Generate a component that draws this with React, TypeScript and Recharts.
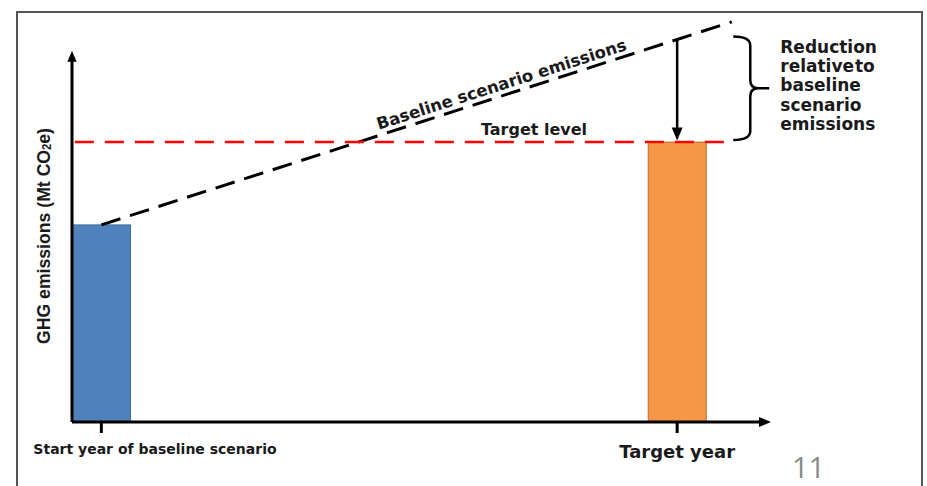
import React from 'react';
import { ComposedChart, Bar, Cell, XAxis, YAxis, ReferenceLine } from 'recharts';

// Emissions at the start year and the target level in the target year
const yearPositions = [0, 10];
const xTickLabels = ['Start year of baseline scenario', 'Target year'];
const barValues = [50, 71];
const barColors = ['#4F81BD', '#F79646'];
const barStrokes = ['#3A6A9E', '#B66D31'];

// Baseline (business as usual) trajectory
const baselineX = [0, 10.95];
const baselineY = [50, 101.5];
const targetLevel = 71;
const baselineAtTarget = 97;

const reductionLines = ['Reduction', 'relative to', 'baseline', 'scenario', 'emissions'];

const X_DOMAIN: [number, number] = [-0.51, 11.63];
const Y_DOMAIN: [number, number] = [0, 104];
const Y_AXIS_TOP = 94.2;
const BRACE_X = 11.27;

const BOLD = "'DejaVu Sans', Verdana, sans-serif";
const TEXT = '#1a1a1a';

const barRows = yearPositions.map((x, i) => ({ x, emissions: barValues[i] }));

function ArrowShape(props: any) {
  const { x1, y1, x2, y2, head = 12, width = 3 } = props;
  const dx = x2 - x1;
  const dy = y2 - y1;
  const len = Math.hypot(dx, dy) || 1;
  const ux = dx / len;
  const uy = dy / len;
  const bx = x2 - ux * head;
  const by = y2 - uy * head;
  const w = head * 0.42;
  const pts = `${x2},${y2} ${bx - uy * w},${by + ux * w} ${bx + uy * w},${by - ux * w}`;
  return (
    <g>
      <line x1={x1} y1={y1} x2={bx + ux} y2={by + uy} stroke="#000" strokeWidth={width} />
      <polygon points={pts} fill="#000" />
    </g>
  );
}

function BaselineShape(props: any) {
  const { x1, y1, x2, y2 } = props;
  const dx = x2 - x1;
  const dy = y2 - y1;
  const len = Math.hypot(dx, dy) || 1;
  const angle = (Math.atan2(dy, dx) * 180) / Math.PI;
  const t = 0.64;
  const tx = x1 + dx * t + (dy / len) * 11;
  const ty = y1 + dy * t - (dx / len) * 11;
  return (
    <g>
      <line x1={x1} y1={y1} x2={x2} y2={y2} stroke="#000" strokeWidth={3} strokeDasharray="20 10" />
      <text
        x={tx}
        y={ty}
        transform={`rotate(${angle}, ${tx}, ${ty})`}
        textAnchor="middle"
        dominantBaseline="central"
        fontFamily={BOLD}
        fontWeight="bold"
        fontSize={16.5}
        fill={TEXT}
      >
        Baseline scenario emissions
      </text>
    </g>
  );
}

function TargetLevelShape(props: any) {
  const { x1, y1, x2, y2 } = props;
  const tx = x1 + (x2 - x1) * 0.705;
  return (
    <g>
      <line x1={x1} y1={y1} x2={x2} y2={y2} stroke="#FF0000" strokeWidth={2.5} strokeDasharray="19 11" />
      <text
        x={tx}
        y={y1 - 13}
        textAnchor="middle"
        dominantBaseline="central"
        fontFamily={BOLD}
        fontWeight="bold"
        fontSize={16}
        fill={TEXT}
      >
        Target level
      </text>
    </g>
  );
}

function BraceShape(props: any) {
  const { x1, y1, y2 } = props;
  const top = Math.min(y1, y2) - 3;
  const bottom = Math.max(y1, y2) - 2;
  const mid = (top + bottom) / 2;
  const sx = x1;
  const d = [
    `M ${sx - 17} ${top}`,
    `Q ${sx} ${top} ${sx} ${top + 9}`,
    `L ${sx} ${mid - 8}`,
    `Q ${sx} ${mid} ${sx + 8} ${mid}`,
    `Q ${sx} ${mid} ${sx} ${mid + 8}`,
    `L ${sx} ${bottom - 9}`,
    `Q ${sx} ${bottom} ${sx - 17} ${bottom}`,
    `M ${sx + 6} ${mid} L ${sx + 19} ${mid}`,
  ].join(' ');
  return (
    <g>
      <path d={d} fill="none" stroke="#000" strokeWidth={2.5} />
      <text fontFamily={BOLD} fontWeight="bold" fontSize={17} fill={TEXT}>
        {reductionLines.map((line, i) => (
          <tspan
            key={line}
            x={sx + 30}
            y={mid - 3 + (i - 2) * 19.2}
            dominantBaseline="central"
            wordSpacing={i === 1 ? -5 : 0}
          >
            {line}
          </tspan>
        ))}
      </text>
    </g>
  );
}

function YearTick(props: any) {
  const { x, y, index } = props;
  if (index === 0) {
    return (
      <text
        x={x - 68}
        y={y + 14}
        textAnchor="start"
        dominantBaseline="central"
        fontFamily={BOLD}
        fontWeight="bold"
        fontSize={14}
        fill={TEXT}
      >
        {xTickLabels[0]}
      </text>
    );
  }
  return (
    <text
      x={x}
      y={y + 16}
      textAnchor="middle"
      dominantBaseline="central"
      fontFamily={BOLD}
      fontWeight="bold"
      fontSize={18}
      fill={TEXT}
    >
      {xTickLabels[index]}
    </text>
  );
}

function YTitle(props: any) {
  const vb = props.viewBox || { x: 0, y: 0, width: 0, height: 0 };
  const cx = vb.x + 43;
  const cy = vb.y + vb.height / 2 + 19;
  return (
    <text
      x={cx}
      y={cy}
      transform={`rotate(-90, ${cx}, ${cy})`}
      textAnchor="middle"
      dominantBaseline="central"
      fontFamily="'Liberation Sans Narrow', 'Liberation Sans', Arial, sans-serif"
      fontWeight="bold"
      fontSize={19}
      fill={TEXT}
      textLength={216}
      lengthAdjust="spacingAndGlyphs"
    >
      GHG emissions (Mt CO
      <tspan fontSize={12} dy={4}>
        2
      </tspan>
      <tspan dy={-4}>e)</tspan>
    </text>
  );
}

export default function App() {
  return (
    <div
      style={{
        position: 'fixed',
        left: 0,
        top: 0,
        width: 927,
        height: 486,
        overflow: 'hidden',
        background: '#fff',
      }}
    >
      <div
        style={{
          position: 'absolute',
          left: 16,
          top: 11,
          width: 903,
          height: 520,
          border: '2px solid #555',
        }}
      />
      <div style={{ position: 'absolute', left: 0, top: 0 }}>
        <ComposedChart
          width={927}
          height={486}
          data={barRows}
          margin={{ top: 12, right: 156, bottom: 0, left: 0 }}
        >
          <XAxis
            type="number"
            dataKey="x"
            domain={X_DOMAIN}
            allowDataOverflow
            ticks={yearPositions}
            interval={0}
            height={64}
            axisLine={false}
            tickSize={11}
            tickLine={{ stroke: '#000', strokeWidth: 3 }}
            tick={<YearTick />}
          />
          <YAxis
            type="number"
            domain={Y_DOMAIN}
            allowDataOverflow
            width={72}
            axisLine={false}
            tick={false}
            tickLine={false}
            label={{ content: (p: any) => <YTitle {...p} /> }}
          />
          <Bar dataKey="emissions" barSize={58} isAnimationActive={false}>
            {barRows.map((row, i) => (
              <Cell key={row.x} fill={barColors[i]} stroke={barStrokes[i]} strokeWidth={1} />
            ))}
          </Bar>
          <ReferenceLine
            ifOverflow="visible"
            segment={[
              { x: baselineX[0], y: baselineY[0] },
              { x: baselineX[1], y: baselineY[1] },
            ]}
            shape={(p: any) => <BaselineShape {...p} />}
          />
          <ReferenceLine
            ifOverflow="visible"
            segment={[
              { x: -0.46, y: targetLevel },
              { x: 10.85, y: targetLevel },
            ]}
            shape={(p: any) => <TargetLevelShape {...p} />}
          />
          <ReferenceLine
            ifOverflow="visible"
            segment={[
              { x: yearPositions[1], y: baselineAtTarget },
              { x: yearPositions[1], y: targetLevel + 0.4 },
            ]}
            shape={(p: any) => <ArrowShape {...p} head={13} width={2.5} />}
          />
          <ReferenceLine
            ifOverflow="visible"
            segment={[
              { x: BRACE_X, y: baselineAtTarget },
              { x: BRACE_X, y: targetLevel },
            ]}
            shape={(p: any) => <BraceShape {...p} />}
          />
          {/* axes with arrow heads */}
          <ReferenceLine
            ifOverflow="visible"
            segment={[
              { x: X_DOMAIN[0], y: 0 },
              { x: X_DOMAIN[0], y: Y_AXIS_TOP },
            ]}
            shape={(p: any) => <ArrowShape {...p} head={11} width={3} />}
          />
          <ReferenceLine
            ifOverflow="visible"
            segment={[
              { x: X_DOMAIN[0], y: 0 },
              { x: X_DOMAIN[1], y: 0 },
            ]}
            shape={(p: any) => <ArrowShape {...p} head={12} width={3} />}
          />
        </ComposedChart>
      </div>
      <div
        style={{
          position: 'absolute',
          left: 792,
          top: 448,
          fontFamily: "'Open Sans', Lato, sans-serif",
          fontSize: 29,
          lineHeight: '38px',
          color: '#8a8a8a',
        }}
      >
        11
      </div>
    </div>
  );
}
